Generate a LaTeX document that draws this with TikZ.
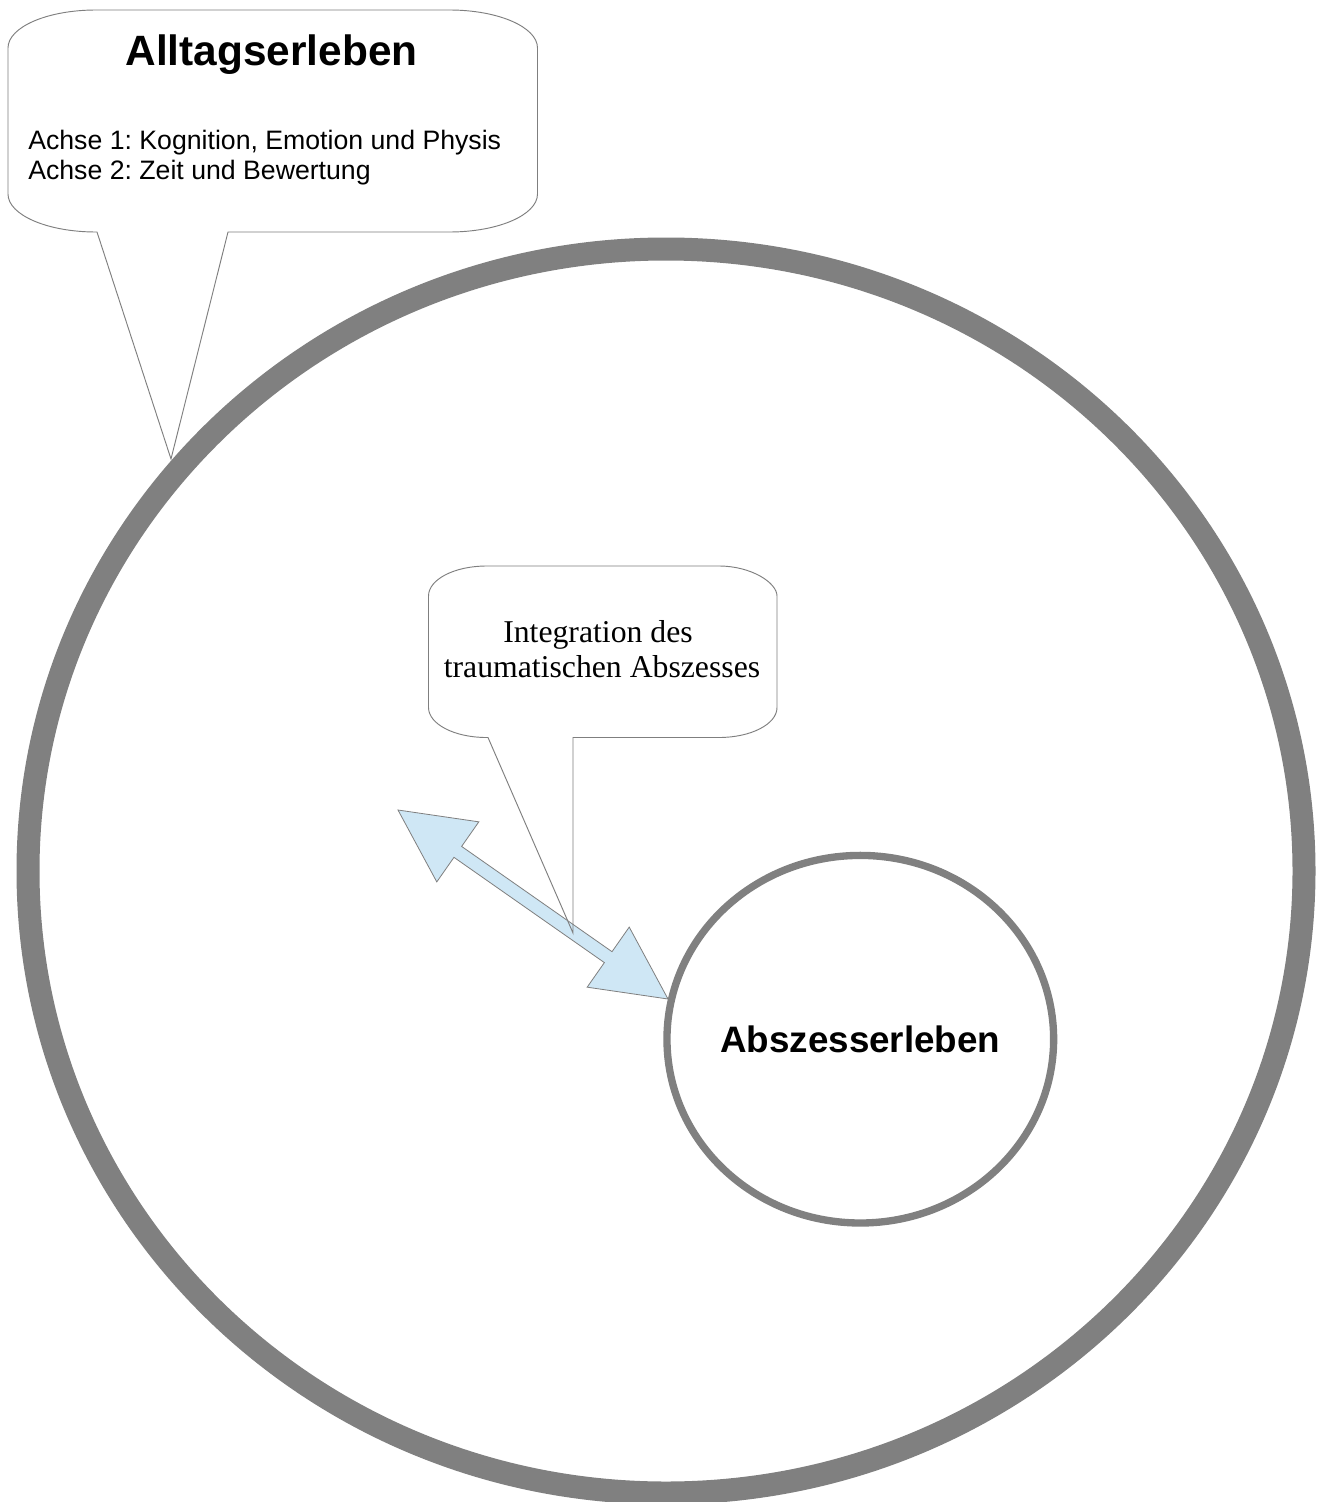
\documentclass[tikz,border=0pt]{standalone}
\usepackage{fontspec}
\setmainfont{Liberation Serif}
\newfontfamily\arialfont{Liberation Sans}
\usetikzlibrary{calc,shapes.geometric}
\frenchspacing

\definecolor{ringgray}{HTML}{808080}
\definecolor{linegray}{HTML}{7F7F7F}
\definecolor{arrowblue}{HTML}{CFE7F5}

\tikzset{
  ring/.style={draw=ringgray, line width=17.25pt},
  innerring/.style={draw=ringgray, line width=5.5pt, ellipse, inner sep=0pt,
    minimum width=290pt, minimum height=275.7pt},
  calloutfill/.style={fill=white},
  calloutline/.style={draw=linegray, line width=0.7pt, line join=miter},
  arrowshape/.style={fill=arrowblue, draw=linegray, line width=0.6pt, line join=miter},
  titletext/.style={font=\arialfont\bfseries\fontsize{31.8}{36}\selectfont, inner sep=0pt},
  axistext/.style={font=\arialfont\fontsize{20}{23}\selectfont, inner sep=0pt},
  serifnote/.style={font=\fontsize{23.8}{26.3}\selectfont, inner sep=0pt},
  abscesstext/.style={font=\arialfont\bfseries\fontsize{27.6}{32}\selectfont, inner sep=0pt},
}

\begin{document}
\begin{tikzpicture}[x=0.75pt,y=-0.75pt]
\useasboundingbox (0,0) rectangle (1322,1502);
\fill[white] (0,0) rectangle (1322,1502);

% callout for everyday experience, tail pointing at the outer ring
\path[calloutfill, calloutline]
  (96,10) -- (449.5,10)
  .. controls (498.1,10) and (537.5,27) .. (537.5,48)
  -- (537.5,194)
  .. controls (537.5,215) and (498.1,232) .. (449.5,232)
  -- (228,232) -- (171,459) -- (97,232) -- (96,232)
  .. controls (47.4,232) and (8,215) .. (8,194)
  -- (8,48)
  .. controls (8,27) and (47.4,10) .. (96,10) -- cycle;

% outer ring
\draw[ring] (666,871) ellipse [x radius=638, y radius=622];

% inner ring with its label
\node[innerring] (abscess) at (860.3,1039.2) {};
\node[abscesstext] (abscesslabel) at (abscess.center) {Abszesserleben};

% callout for integration: body first, outline after the arrow
\path[calloutfill]
  (486.5,566) -- (719,566)
  .. controls (751,566) and (777,582.6) .. (777,596)
  -- (777,707.5)
  .. controls (777,724.1) and (751,737.5) .. (719,737.5)
  -- (573,737.5) -- (573,933) -- (488,737.5) -- (486.5,737.5)
  .. controls (454.5,737.5) and (428.5,724.1) .. (428.5,707.5)
  -- (428.5,596)
  .. controls (428.5,579.4) and (454.5,566) .. (486.5,566) -- cycle;

% double-headed arrow between the two experience spaces
\coordinate (aL) at (398,810);
\coordinate (aR) at (668,999);
\coordinate (hL) at ($(aL)!0.2215!(aR)$);
\coordinate (hR) at ($(aR)!0.2215!(aL)$);
\path[arrowshape]
  (aL)
  -- ($(hL)!27.5pt!90:(aR)$)
  -- ($(hL)!5pt!90:(aR)$)
  -- ($(hR)!5pt!-90:(aL)$)
  -- ($(hR)!27.5pt!-90:(aL)$)
  -- (aR)
  -- ($(hR)!27.5pt!90:(aL)$)
  -- ($(hR)!5pt!90:(aL)$)
  -- ($(hL)!5pt!-90:(aR)$)
  -- ($(hL)!27.5pt!-90:(aR)$)
  -- cycle;

\path[calloutline]
  (486.5,566) -- (719,566)
  .. controls (751,566) and (777,582.6) .. (777,596)
  -- (777,707.5)
  .. controls (777,724.1) and (751,737.5) .. (719,737.5)
  -- (573,737.5) -- (573,933) -- (488,737.5) -- (486.5,737.5)
  .. controls (454.5,737.5) and (428.5,724.1) .. (428.5,707.5)
  -- (428.5,596)
  .. controls (428.5,579.4) and (454.5,566) .. (486.5,566) -- cycle;

% texts
\node[titletext, anchor=base] (title) at (271.5,66) {Alltagserleben};
\node[axistext, anchor=base west] (axis1) at (28,149) {Achse 1: Kognition, Emotion und Physis};
\node[axistext, anchor=base west] (axis2) at (28,179) {Achse 2: Zeit und Bewertung};
\node[serifnote, anchor=base] (integ1) at (598,642) {Integration des};
\node[serifnote, anchor=base] (integ2) at (602,677) {traumatischen Abszesses};
\end{tikzpicture}
\end{document}
